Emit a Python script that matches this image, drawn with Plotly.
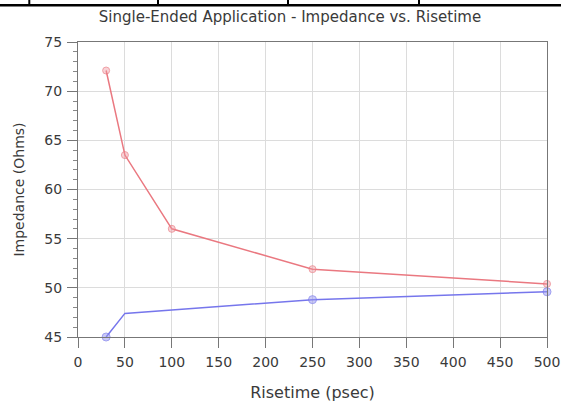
import plotly.graph_objects as go

title_text = "Single-Ended Application - Impedance vs. Risetime"
x_title = "Risetime (psec)"
y_title = "Impedance (Ohms)"

red_x = [30, 50, 100, 250, 500]
red_y = [72.1, 63.5, 56.0, 51.9, 50.4]
red_marker_size = [7, 7, 7, 7, 7]

blue_x = [30, 50, 250, 500]
blue_y = [45.0, 47.4, 48.8, 49.6]
blue_marker_size = [8, 0, 8, 8]

x_ticks = [0, 50, 100, 150, 200, 250, 300, 350, 400, 450, 500]
y_ticks = [45, 50, 55, 60, 65, 70, 75]

W, H = 561, 405
L, R, T, B = 78, 14, 42, 68

fig = go.Figure()
fig.add_trace(go.Scatter(
    x=red_x, y=red_y, mode="lines+markers",
    line=dict(color="#ea7880", width=1.5),
    marker=dict(size=red_marker_size, color="rgba(240,150,160,0.6)",
                line=dict(color="#ea7880", width=1)),
    showlegend=False, cliponaxis=False))
fig.add_trace(go.Scatter(
    x=blue_x, y=blue_y, mode="lines+markers",
    line=dict(color="#7676ec", width=1.5),
    marker=dict(size=blue_marker_size, color="rgba(150,150,240,0.7)",
                line=dict(color="#7676ec", width=1)),
    showlegend=False, cliponaxis=False))

font = "DejaVu Sans, Liberation Sans, sans-serif"
txt = "#3a3a3a"
fig.update_layout(
    width=W, height=H,
    margin=dict(l=L, r=R, t=T, b=B, autoexpand=False),
    paper_bgcolor="white", plot_bgcolor="white",
    font=dict(family=font, size=14, color=txt),
    title=dict(text=title_text, x=290 / W, xanchor="center",
               y=1 - 17 / H, yanchor="middle",
               font=dict(size=15, color=txt)),
    xaxis=dict(range=[0, 500], tickvals=x_ticks, ticks="outside", ticklen=10,
               tickcolor="#777777", showline=True, linecolor="#777777",
               linewidth=1, mirror=True, showgrid=True, gridcolor="#dcdcdc",
               zeroline=False, ticklabelstandoff=2, automargin=False,
               title=dict(text=x_title, standoff=18,
                          font=dict(size=16, color=txt)),
               tickfont=dict(size=14, color=txt)),
    yaxis=dict(range=[45, 75], tickvals=y_ticks, ticks="outside", ticklen=10,
               tickcolor="#777777", showline=True, linecolor="#777777",
               linewidth=1, mirror=True, showgrid=True, gridcolor="#dcdcdc",
               zeroline=False, ticklabelstandoff=2, automargin=False,
               minor=dict(dtick=1, ticks="outside", ticklen=4,
                          tickcolor="#888888", showgrid=False),
               title=dict(text=y_title, standoff=16,
                          font=dict(size=14, color=txt)),
               tickfont=dict(size=14, color=txt)),
)

# table border artifacts at the top of the image
def px_x(p):
    return (p - L) / (W - L - R)

def px_y(p):
    return (H - B - p) / (H - T - B)

shapes = [dict(type="line", xref="paper", yref="paper", layer="above",
               x0=px_x(0), x1=px_x(W), y0=px_y(5.3), y1=px_y(5.3),
               line=dict(color="black", width=2.5))]
for vx in [29.3, 158, 288, 419]:
    shapes.append(dict(type="line", xref="paper", yref="paper", layer="above",
                       x0=px_x(vx), x1=px_x(vx), y0=px_y(0), y1=px_y(5.5),
                       line=dict(color="black", width=2)))
fig.update_layout(shapes=shapes)

fig.write_html("out.html",
               config={"displayModeBar": False},
               post_script="document.body.style.margin='0';"
                           "document.body.style.overflow='hidden';")
